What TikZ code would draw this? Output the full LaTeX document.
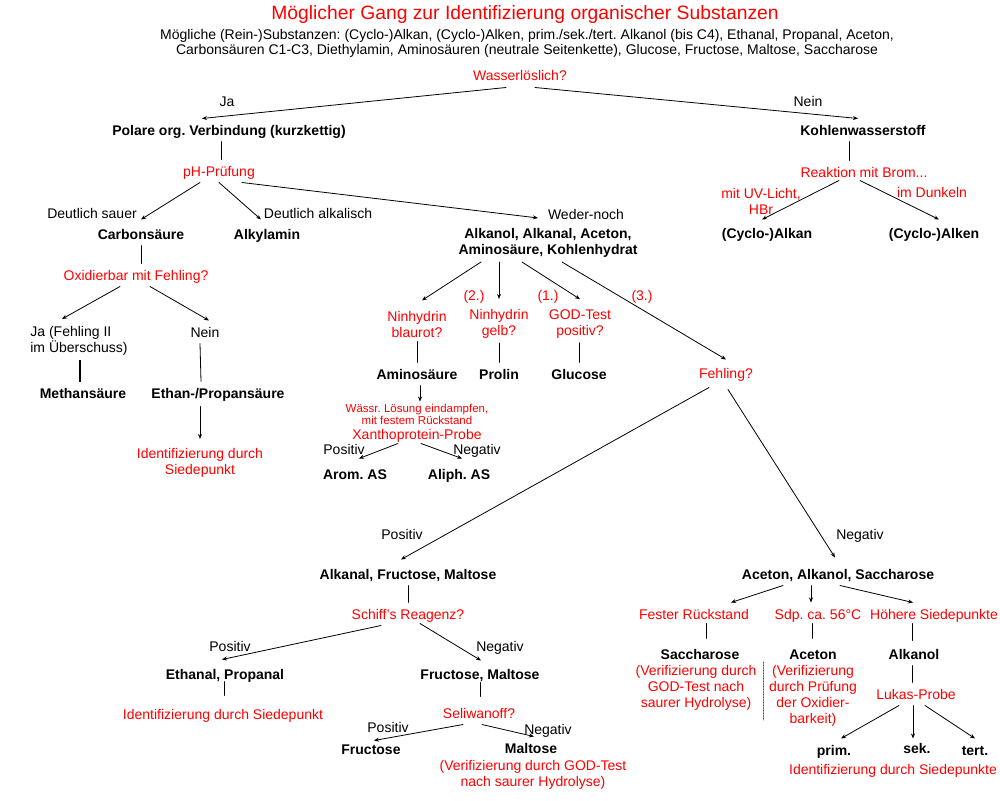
\documentclass[tikz,border=0pt]{standalone}
\usepackage{fontspec}
\setmainfont{Liberation Sans}
\usepackage{tikz}
\usetikzlibrary{arrows.meta,positioning}
\definecolor{testrot}{HTML}{FF0000}
\definecolor{tinte}{HTML}{000000}
\frenchspacing

\begin{document}
\begin{tikzpicture}[
    x=1pt, y=-1pt,
    >={Stealth[length=5pt,width=4pt]},
    line cap=round,
    knoten/.style={inner sep=3pt, outer sep=1.5pt, font=\fontsize{14}{16}\selectfont},
    zeile/.style={text height=12pt, text depth=2pt},
    stoff/.style={knoten, zeile, font=\fontsize{14}{16}\selectfont\bfseries, text=tinte},
    stoffblock/.style={knoten, font=\fontsize{14}{16}\selectfont\bfseries, text=tinte, align=center},
    test/.style={knoten, zeile, text=testrot},
    testblock/.style={knoten, text=testrot, align=center},
    hinweis/.style={inner sep=2pt, font=\fontsize{11.5}{12}\selectfont, text=testrot, align=center},
    zweig/.style={knoten, zeile, text=tinte},
    titel/.style={font=\fontsize{19.3}{22}\selectfont, text=testrot},
    untertitel/.style={font=\fontsize{14}{15}\selectfont, text=tinte, align=center},
    pfeil/.style={->, line width=0.8pt, draw=tinte},
    strich/.style={line width=0.8pt, draw=tinte},
    trenner/.style={densely dotted, line width=0.6pt, draw=testrot}
]
\useasboundingbox (0,0) rectangle (1000,800);

% Title
\node[titel] (titel) at (525,15) {Möglicher Gang zur Identifizierung organischer Substanzen};
\node[untertitel] (liste) at (527,43) {Mögliche (Rein-)Substanzen: (Cyclo-)Alkan, (Cyclo-)Alken, prim./sek./tert. Alkanol (bis C4), Ethanal, Propanal, Aceton,\\Carbonsäuren C1-C3, Diethylamin, Aminosäuren (neutrale Seitenkette), Glucose, Fructose, Maltose, Saccharose};

% First question
\node[test] (wasser) at (520,76) {Wasserlöslich?};
\node[zweig] (ja) at (227,101) {Ja};
\node[zweig] (nein) at (808,101) {Nein};

% Polar branch
\node[stoff] (polare) at (229,130) {Polare org. Verbindung (kurzkettig)};
\node[test] (ph) at (219,171) {pH-Prüfung};
\node[zweig] (sauer) at (92,213) {Deutlich sauer};
\node[zweig] (alkalisch) at (318,213) {Deutlich alkalisch};
\node[zweig] (weder) at (586,214) {Weder-noch};
\node[stoff] (carbon) at (141,234) {Carbonsäure};
\node[stoff] (amin) at (267,234) {Alkylamin};
\node[stoffblock] (gemisch) at (548,243) {Alkanol, Alkanal, Aceton,\\Aminosäure, Kohlenhydrat};

% Carboxylic acids
\node[test] (oxid) at (136,275) {Oxidierbar mit Fehling?};
\node[knoten, text=tinte, align=left] (jafeh) at (79,341) {Ja (Fehling II\\im Überschuss)};
\node[zweig] (neinfeh) at (205,332) {Nein};
\node[stoff] (methan) at (83,393) {Methansäure};
\node[stoff] (ethan) at (218,393) {Ethan-/Propansäure};
\node[testblock] (siede1) at (200,463) {Identifizierung durch\\Siedepunkt};

% Neither acidic nor basic
\node[test] (nr2) at (474,295) {(2.)};
\node[test] (nr1) at (548,295) {(1.)};
\node[test] (nr3) at (642,295) {(3.)};
\node[testblock] (blau) at (417,324) {Ninhydrin\\blaurot?};
\node[testblock] (gelb) at (499,324) {Ninhydrin\\gelb?};
\node[testblock] (god) at (580,324) {GOD-Test\\positiv?};
\node[stoff] (amino) at (417,374) {Aminosäure};
\node[stoff] (prolin) at (499,374) {Prolin};
\node[stoff] (glucose) at (579,374) {Glucose};
\node[hinweis] (waessr) at (417,414) {Wässr. Lösung eindampfen,\\mit festem Rückstand};
\node[test] (xantho) at (417,434) {Xanthoprotein-Probe};
\node[zweig] (pos1) at (344,449) {Positiv};
\node[zweig] (neg1) at (477,449) {Negativ};
\node[stoff] (arom) at (355,474) {Arom. AS};
\node[stoff] (aliph) at (459,474) {Aliph. AS};

% Hydrocarbons
\node[stoff] (kw) at (863,130) {Kohlenwasserstoff};
\node[test] (brom) at (864,172) {Reaktion mit Brom...};
\node[testblock] (uv) at (761,201) {mit UV-Licht,\\HBr};
\node[test] (dunkel) at (932,192) {im Dunkeln};
\node[stoff] (calkan) at (767,233) {(Cyclo-)Alkan};
\node[stoff] (calken) at (934,233) {(Cyclo-)Alken};

% Fehling
\node[test] (fehling) at (726,373) {Fehling?};
\node[zweig] (pos2) at (402,534) {Positiv};
\node[zweig] (neg2) at (860,534) {Negativ};
\node[stoff] (afm) at (408,574) {Alkanal, Fructose, Maltose};
\node[stoff] (aas) at (838,574) {Aceton, Alkanol, Saccharose};

% Positive Fehling
\node[test] (schiff) at (408,614) {Schiff's Reagenz?};
\node[zweig] (pos3) at (230,646) {Positiv};
\node[zweig] (neg3) at (500,646) {Negativ};
\node[stoff] (ethanal) at (225,674) {Ethanal, Propanal};
\node[stoff] (fm) at (480,674) {Fructose, Maltose};
\node[test] (siede2) at (223,714) {Identifizierung durch Siedepunkt};
\node[test] (seli) at (479,713) {Seliwanoff?};
\node[zweig] (pos4) at (388,727) {Positiv};
\node[zweig] (neg4) at (548,729) {Negativ};
\node[stoff] (fructose) at (371,749) {Fructose};
\node[stoff] (maltose) at (531,748) {Maltose};
\node[testblock] (verimal) at (533,775) {(Verifizierung durch GOD-Test\\nach saurer Hydrolyse)};

% Negative Fehling
\node[test] (fest) at (694,614) {Fester Rückstand};
\node[test] (sdp) at (818,614) {Sdp. ca. 56°C};
\node[test] (hoeher) at (934,614) {Höhere Siedepunkte};
\node[stoff] (sacch) at (700,654) {Saccharose};
\node[stoff] (aceton) at (813,654) {Aceton};
\node[stoff] (alkanol) at (914,654) {Alkanol};
\node[testblock] (verisac) at (696,688) {(Verifizierung durch\\GOD-Test nach\\saurer Hydrolyse)};
\node[testblock] (veriace) at (813,696) {(Verifizierung\\durch Prüfung\\der Oxidier-\\barkeit)};
\node[test] (lukas) at (916,694) {Lukas-Probe};
\node[stoff] (prim) at (834,750) {prim.};
\node[stoff] (sek) at (917,748) {sek.};
\node[stoff] (tert) at (975,750) {tert.};
\node[test] (siede3) at (893,769) {Identifizierung durch Siedepunkte};

% Connectors, top part
\draw[pfeil] ([xshift=-14pt]wasser.south) -- ([xshift=-27pt]polare.north);
\draw[pfeil] ([xshift=15pt]wasser.south) -- ([xshift=-5pt]kw.north);
\draw[strich] ([xshift=-8pt]polare.south) -- ([xshift=2pt]ph.north);
\draw[pfeil] ([xshift=-19pt]ph.south) -- ([yshift=3pt]carbon.north);
\draw[pfeil] (ph.south) -- ([xshift=-6pt,yshift=3pt]amin.north);
\draw[pfeil] ([xshift=23pt]ph.south) -- ([xshift=-10pt,yshift=6pt]gemisch.north);

% Connectors, acids
\draw[strich] (carbon.south) -- ([xshift=5pt]oxid.north);
\draw[pfeil] ([xshift=-16pt]oxid.south) -- ([xshift=-17pt,yshift=3pt]jafeh.north);
\draw[pfeil] ([xshift=14pt]oxid.south) -- ([xshift=4pt]neinfeh.north);
\draw[strich, line width=2pt, line cap=butt] ([xshift=1pt]jafeh.south) -- ([xshift=-3pt]methan.north);
\draw[strich] ([xshift=-5pt]neinfeh.south) -- ([xshift=-17pt]ethan.north);
\draw[pfeil] ([xshift=-18pt,yshift=-2pt]ethan.south) -- ([yshift=5pt]siede1.north);

% Connectors, amino acids and sugars
\draw[pfeil] ([xshift=-67pt]gemisch.south) -- ([xshift=5pt,yshift=6pt]blau.north);
\draw[pfeil] ([xshift=-49pt]gemisch.south) -- ([yshift=6pt]gelb.north);
\draw[pfeil] ([xshift=-26pt]gemisch.south) -- ([yshift=6pt]god.north);
\draw[pfeil] ([xshift=14pt]gemisch.south) -- ([yshift=2pt]fehling.north);
\draw[strich] (blau) -- (amino);
\draw[strich] (gelb) -- (prolin);
\draw[strich] ([xshift=-1pt]god.south) -- (glucose.north);
\draw[pfeil] ([xshift=3pt]amino.south) -- ([xshift=3pt]waessr.north);
\draw[pfeil] ([xshift=-19pt,yshift=2pt]xantho.south) -- ([xshift=4pt,yshift=4pt]arom.north);
\draw[pfeil] ([xshift=4pt,yshift=2pt]xantho.south) -- ([xshift=3pt,yshift=4pt]aliph.north);

% Connectors, hydrocarbons
\draw[strich] ([xshift=-14pt]kw.south) -- ([xshift=-15pt]brom.north);
\draw[pfeil] ([xshift=-25pt,yshift=3pt]brom.south) -- ([xshift=-5pt,yshift=2pt]calkan.north);
\draw[pfeil] ([xshift=-4pt,yshift=3pt]brom.south) -- ([xshift=5pt,yshift=2pt]calken.north);

% Connectors, Fehling
\draw[pfeil] ([xshift=-17pt,yshift=-3pt]fehling.south) -- ([xshift=-7pt,yshift=3pt]afm.north);
\draw[pfeil] ([xshift=2pt,yshift=-5pt]fehling.south) -- ([xshift=-3pt,yshift=5pt]aas.north);
\draw[strich] (afm) -- (schiff);
\draw[pfeil] ([xshift=-27pt]schiff.south) -- ([xshift=-3pt,yshift=3pt]ethanal.north);
\draw[pfeil] ([xshift=12pt,yshift=2pt]schiff.south) -- ([xshift=1pt,yshift=2pt]fm.north);
\draw[strich] ([xshift=-1pt,yshift=4pt]ethanal.south) -- ([xshift=1pt,yshift=7pt]siede2.north);
\draw[strich] ([yshift=3pt]fm.south) -- ([xshift=1pt,yshift=5pt]seli.north);
\draw[pfeil] ([xshift=-16pt]seli.south) -- ([xshift=3pt,yshift=-3pt]fructose.north);
\draw[pfeil] ([xshift=3pt]seli.south) -- ([xshift=3pt]maltose.north);

% Connectors, Aceton/Alkanol/Saccharose
\draw[pfeil] ([xshift=-55pt]aas.south) -- ([xshift=37pt]fest.north);
\draw[pfeil] ([xshift=-27pt]aas.south) -- ([xshift=-7pt]sdp.north);
\draw[pfeil] ([xshift=2pt]aas.south) -- ([xshift=-21pt]hoeher.north);
\draw[strich] ([xshift=12pt,yshift=2pt]fest.south) -- ([xshift=6pt,yshift=4pt]sacch.north);
\draw[strich] ([xshift=-6pt,yshift=2pt]sdp.south) -- ([xshift=-1pt,yshift=4pt]aceton.north);
\draw[strich] ([xshift=-22pt,yshift=2pt]hoeher.south) -- ([xshift=-2pt,yshift=2pt]alkanol.north);
\draw[strich] ([xshift=-2pt]alkanol.south) -- ([xshift=-4pt]lukas.north);
\draw[pfeil] ([xshift=-17pt]lukas.south) -- ([xshift=7pt]prim.north);
\draw[pfeil] ([xshift=-3pt]lukas.south) -- ([xshift=-4pt,yshift=-2pt]sek.north);
\draw[pfeil] ([xshift=9pt]lukas.south) -- (tert.north);

% Separator
\coordinate (trennoben) at (763,662);
\coordinate (trennunten) at (763,720);
\draw[trenner] (trennoben) -- (trennunten);

\end{tikzpicture}
\end{document}
